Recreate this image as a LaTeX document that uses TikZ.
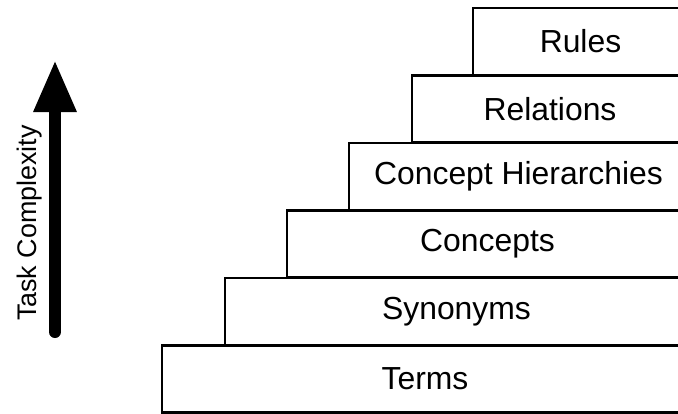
\documentclass[tikz,border=0pt]{standalone}
\usepackage{fontspec}
\setmainfont{Liberation Sans}
\usetikzlibrary{arrows.meta}
\begin{document}
\begin{tikzpicture}[x=1bp,y=-1bp,
  stairbox/.style={draw=black,line width=2.6bp,fill=white,rectangle,inner sep=0pt,
    minimum height=67bp,font=\fontsize{32}{38}\selectfont},
  axislabel/.style={font=\fontsize{27}{32}\selectfont,rotate=90,inner sep=0pt}]
  \useasboundingbox (0,0) rectangle (678,413);
  % the staircase, each step running off the right edge
  \begin{scope}
    \clip (0,0) rectangle (678,413);
    \node[stairbox,minimum width=526bp] (terms)    at (425,379) {Terms};
    \node[stairbox,minimum width=463bp] (synonyms) at (456.5,311.5) {Synonyms};
    \node[stairbox,minimum width=401bp] (concepts) at (487.5,244) {Concepts};
    \node[stairbox,minimum width=339bp] (hier)     at (518.5,176.5) {Concept Hierarchies};
    \node[stairbox,minimum width=276bp] (rel)      at (550,109) {Relations};
    \node[stairbox,minimum width=215bp] (rules)    at (580.5,41.5) {Rules};
  \end{scope}
  % complexity axis
  \coordinate (abot) at (55,332);
  \coordinate (atop) at (55,60);
  \draw[line width=12bp,line cap=round,-{Triangle[length=52bp,width=40bp]}] (abot) -- (atop);
  \node[axislabel] (axis) at (30,223) {Task Complexity};
\end{tikzpicture}
\end{document}
